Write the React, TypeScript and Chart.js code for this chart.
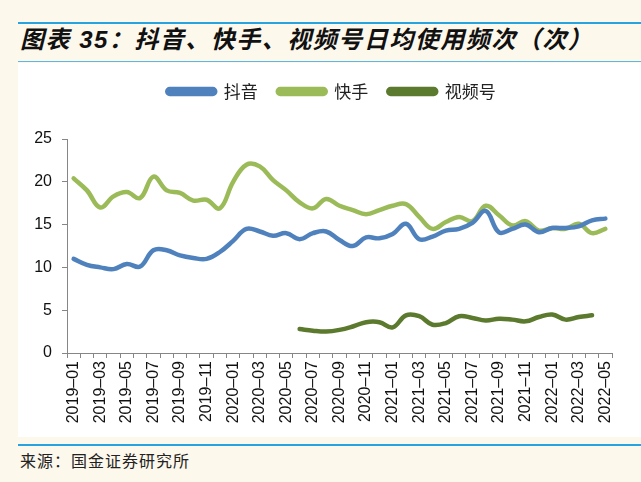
import React, { useEffect, useRef } from "react";
import { Chart, registerables } from "chart.js";

Chart.register(...registerables);

const months: string[] = [
  "2019–01", "2019–02", "2019–03", "2019–04", "2019–05", "2019–06", "2019–07", "2019–08", "2019–09", "2019–10", "2019–11", "2019–12",
  "2020–01", "2020–02", "2020–03", "2020–04", "2020–05", "2020–06", "2020–07", "2020–08", "2020–09", "2020–10", "2020–11", "2020–12",
  "2021–01", "2021–02", "2021–03", "2021–04", "2021–05", "2021–06", "2021–07", "2021–08", "2021–09", "2021–10", "2021–11", "2021–12",
  "2022–01", "2022–02", "2022–03", "2022–04", "2022–05",
];

const douyin: (number | null)[] = [
  11.0, 10.3, 10.0, 9.8, 10.4, 10.1, 12.0, 12.0, 11.4, 11.1, 11.0, 11.8,
  13.1, 14.5, 14.2, 13.7, 14.0, 13.3, 14.0, 14.2, 13.2, 12.5, 13.5, 13.4,
  13.9, 15.1, 13.3, 13.6, 14.3, 14.5, 15.2, 16.6, 14.1, 14.5, 15.0, 14.1,
  14.6, 14.6, 14.8, 15.5, 15.7,
];

const kuaishou: (number | null)[] = [
  20.4, 19.0, 17.0, 18.3, 18.8, 18.1, 20.6, 19.0, 18.7, 17.8, 17.9, 16.9,
  20.0, 22.0, 21.8, 20.2, 19.0, 17.6, 16.9, 18.0, 17.2, 16.7, 16.2, 16.7,
  17.2, 17.4, 15.9, 14.5, 15.3, 15.9, 15.4, 17.2, 16.1, 14.9, 15.4, 14.3,
  14.6, 14.5, 15.1, 14.0, 14.5,
];

const shipinhao: (number | null)[] = [
  null, null, null, null, null, null, null, null, null, null, null, null,
  null, null, null, null, null, 2.8, 2.6, 2.5, 2.7, 3.1, 3.6, 3.6,
  3.0, 4.4, 4.3, 3.3, 3.5, 4.3, 4.1, 3.8, 4.0, 3.9, 3.7, 4.2,
  4.5, 3.9, 4.2, 4.4, null,
];

const seriesNames = ["抖音", "快手", "视频号"];
const yMin = 0;
const yMax = 25;
const yStep = 5;

const BLUE = "#4f81bd";
const GREEN = "#9bbb59";
const DARK = "#5b7a2e";
const AXIS = "#868686";
const LINE_BLUE = "#27a4e0";

export default function App() {
  const ref = useRef<HTMLCanvasElement | null>(null);

  useEffect(() => {
    if (!ref.current) return;
    const legendTweak = {
      id: "legendTweak",
      beforeInit(chart: any) {
        const orig = chart.legend.fit;
        chart.legend.fit = function () {
          orig.bind(chart.legend)();
          this.height = 76;
        };
      },
      afterLayout(chart: any) {
        const lg = chart.legend;
        if (lg) {
          lg.left += 16.5;
          lg.right += 16.5;
        }
      },
    };
    const mk = (label: string, data: (number | null)[], color: string) => ({
      label,
      data,
      borderColor: color,
      backgroundColor: color,
      borderWidth: 4.5,
      pointRadius: 0,
      pointHoverRadius: 0,
      tension: 0.4,
      fill: false,
      spanGaps: false,
      borderCapStyle: "round" as const,
      borderJoinStyle: "round" as const,
    });
    const chart = new Chart(ref.current, {
      type: "line",
      data: {
        labels: months,
        datasets: [
          mk(seriesNames[0], douyin, BLUE),
          mk(seriesNames[1], kuaishou, GREEN),
          mk(seriesNames[2], shipinhao, DARK),
        ],
      },
      options: {
        responsive: false,
        animation: false,
        events: [],
        layout: { padding: { left: 0, right: 29, top: 0, bottom: 0 } },
        plugins: {
          tooltip: { enabled: false },
          legend: {
            display: true,
            position: "top",
            labels: {
              boxWidth: 48,
              boxHeight: 5,
              useBorderRadius: true,
              borderRadius: 2.5,
              padding: 20,
              color: "#222",
              font: { family: "'Noto Sans CJK SC', sans-serif", size: 17 },
            },
          },
        },
        scales: {
          x: {
            type: "category",
            offset: true,
            afterFit(scale: any) {
              scale.height = 84;
            },
            grid: {
              offset: true,
              drawOnChartArea: false,
              drawTicks: true,
              tickLength: 5,
              color: AXIS,
            },
            border: { color: AXIS, width: 1 },
            ticks: {
              autoSkip: false,
              maxRotation: 90,
              minRotation: 90,
              padding: 3,
              color: "#111",
              font: { family: "'Liberation Sans', Arial, sans-serif", size: 16 },
              callback: (_v: any, i: number) => (i % 2 === 0 ? months[i] : ""),
            },
          },
          y: {
            min: yMin,
            max: yMax,
            afterFit(scale: any) {
              scale.width = 49;
            },
            grid: {
              drawOnChartArea: false,
              drawTicks: true,
              tickLength: 5,
              color: AXIS,
            },
            border: { color: AXIS, width: 1 },
            ticks: {
              stepSize: yStep,
              padding: 10,
              color: "#111",
              font: { family: "'Liberation Sans', Arial, sans-serif", size: 16 },
            },
          },
        },
      },
      plugins: [legendTweak],
    } as any);
    return () => chart.destroy();
  }, []);

  return (
    <div
      style={{
        position: "fixed",
        left: 0,
        top: 0,
        width: 641,
        height: 482,
        background: "#fdf8ec",
        overflow: "hidden",
      }}
    >
      <div style={{ position: "absolute", left: 18, top: 22, width: 623, height: 2, background: LINE_BLUE }} />
      <div
        style={{
          position: "absolute",
          left: 20,
          top: 27,
          height: 26,
          lineHeight: "26px",
          fontSize: 24,
          fontWeight: "bold",
          fontStyle: "italic",
          letterSpacing: 1.5,
          color: "#111",
          whiteSpace: "nowrap",
          fontFamily: "'Liberation Sans', 'Noto Sans CJK SC', sans-serif",
        }}
      >
        图表 35：抖音、快手、视频号日均使用频次（次）
      </div>
      <div style={{ position: "absolute", left: 18, top: 61, width: 623, height: 1, background: "#5db6e6" }} />
      <div style={{ position: "absolute", left: 18, top: 63, width: 623, height: 374, background: "#ffffff" }}>
        <canvas ref={ref} width={623} height={374} style={{ display: "block", width: 623, height: 374 }} />
      </div>
      <div style={{ position: "absolute", left: 18, top: 444, width: 623, height: 2, background: LINE_BLUE }} />
      <div
        style={{
          position: "absolute",
          left: 20,
          top: 450,
          fontSize: 16,
          lineHeight: "20px",
          letterSpacing: 1,
          color: "#222",
          whiteSpace: "nowrap",
          fontFamily: "'Noto Sans CJK SC', sans-serif",
        }}
      >
        来源：国金证券研究所
      </div>
    </div>
  );
}
